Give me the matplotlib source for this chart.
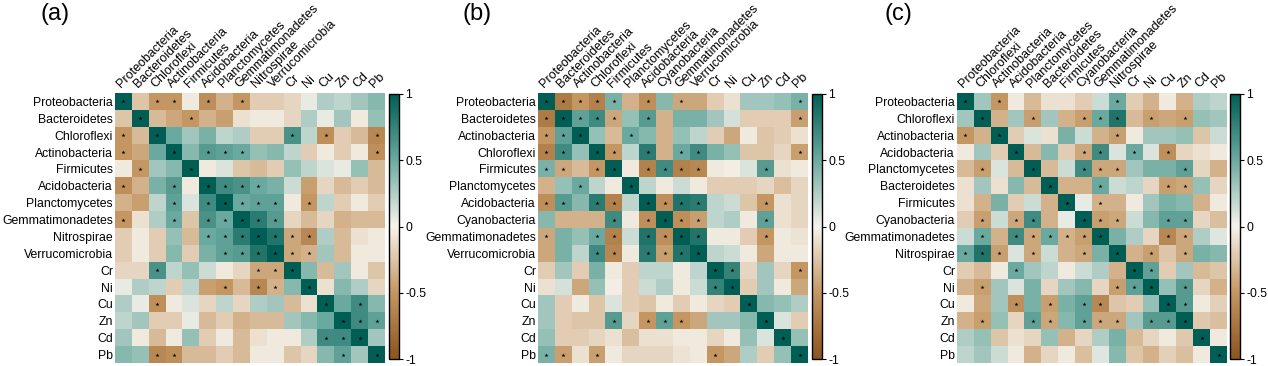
import numpy as np
import matplotlib
matplotlib.use("Agg")
import matplotlib.pyplot as plt
from matplotlib.colors import LinearSegmentedColormap

plt.rcParams['font.family'] = ['Liberation Sans', 'DejaVu Sans']
plt.rcParams['axes.unicode_minus'] = False

# ---------------- data ----------------
labels_a = ["Proteobacteria", "Bacteroidetes", "Chloroflexi", "Actinobacteria", "Firmicutes",
            "Acidobacteria", "Planctomycetes", "Gemmatimonadetes", "Nitrospirae", "Verrucomicrobia",
            "Cr", "Ni", "Cu", "Zn", "Cd", "Pb"]
labels_b = ["Proteobacteria", "Bacteroidetes", "Actinobacteria", "Chloroflexi", "Firmicutes",
            "Planctomycetes", "Acidobacteria", "Cyanobacteria", "Gemmatimonadetes", "Verrucomicrobia",
            "Cr", "Ni", "Cu", "Zn", "Cd", "Pb"]
labels_c = ["Proteobacteria", "Chloroflexi", "Actinobacteria", "Acidobacteria", "Planctomycetes",
            "Bacteroidetes", "Firmicutes", "Cyanobacteria", "Gemmatimonadetes", "Nitrospirae",
            "Cr", "Ni", "Cu", "Zn", "Cd", "Pb"]

corr_a = [
    [1, -0.25, -0.5, -0.5, -0.05, -0.55, -0.35, -0.5, -0.2, -0.2, -0.15, 0.05, 0.25, 0.2, 0.3, 0.4],
    [-0.25, 1, -0.3, -0.4, -0.5, -0.35, -0.45, -0.1, -0.05, -0.05, -0.15, 0.25, 0.05, 0.3, -0.05, 0.35],
    [-0.5, -0.3, 1, 0.5, 0.3, 0.45, 0.2, 0.25, -0.2, -0.2, 0.65, 0.2, -0.55, -0.2, -0.3, -0.6],
    [-0.5, -0.4, 0.5, 1, 0.4, 0.6, 0.55, 0.5, 0.35, 0.4, 0.2, -0.2, -0.05, -0.2, -0.05, -0.55],
    [-0.05, -0.5, 0.3, 0.4, 1, -0.05, 0.1, -0.25, -0.3, -0.2, 0.35, 0.2, 0.1, 0.05, 0.35, -0.3],
    [-0.55, -0.35, 0.45, 0.6, -0.05, 1, 0.7, 0.65, 0.5, 0.45, 0.15, -0.45, -0.15, -0.3, -0.2, -0.3],
    [-0.35, -0.45, 0.2, 0.55, 0.1, 0.7, 1, 0.5, 0.55, 0.55, -0.05, -0.5, 0.2, -0.2, -0.05, -0.2],
    [-0.5, -0.1, 0.25, 0.5, -0.25, 0.65, 0.5, 1, 0.8, 0.6, -0.15, -0.3, -0.15, -0.35, -0.3, -0.3],
    [-0.2, -0.05, -0.2, 0.35, -0.3, 0.5, 0.55, 0.8, 1, 0.85, -0.4, -0.6, 0.25, -0.3, -0.1, -0.05],
    [-0.2, -0.05, -0.2, 0.4, -0.2, 0.45, 0.55, 0.6, 0.85, 1, -0.4, -0.35, 0.3, -0.3, -0.05, -0.05],
    [-0.15, -0.15, 0.65, 0.2, 0.35, 0.15, -0.05, -0.15, -0.4, -0.4, 1, 0.4, -0.3, 0.3, -0.05, -0.25],
    [0.05, 0.25, 0.2, -0.2, 0.2, -0.45, -0.5, -0.3, -0.6, -0.35, 0.4, 1, -0.1, 0.4, 0.25, -0.15],
    [0.25, 0.05, -0.55, -0.05, 0.1, -0.15, 0.2, -0.15, 0.25, 0.3, -0.3, -0.1, 1, 0.5, 0.7, 0.4],
    [0.2, 0.3, -0.2, -0.2, 0.05, -0.3, -0.2, -0.35, -0.3, -0.3, 0.3, 0.4, 0.5, 1, 0.7, 0.55],
    [0.3, -0.05, -0.3, -0.05, 0.35, -0.2, -0.05, -0.3, -0.1, -0.05, -0.05, 0.25, 0.7, 0.7, 1, 0.3],
    [0.4, 0.35, -0.6, -0.55, -0.3, -0.3, -0.2, -0.3, -0.05, -0.05, -0.25, -0.15, 0.4, 0.55, 0.3, 1],
]
corr_b = [
    [1, -0.7, -0.5, -0.65, 0.45, -0.35, -0.55, 0.4, -0.4, -0.4, -0.2, -0.1, 0.3, 0.3, 0.35, 0.45],
    [-0.7, 1, 0.55, 0.7, -0.4, 0.35, 0.6, -0.35, 0.45, 0.45, 0.3, 0.12, -0.2, -0.2, -0.2, -0.45],
    [-0.5, 0.55, 1, 0.35, -0.3, 0.5, 0.4, -0.35, 0.35, 0.2, -0.2, -0.4, -0.05, -0.25, -0.2, -0.1],
    [-0.65, 0.7, 0.35, 1, -0.5, 0.2, 0.8, -0.35, 0.5, 0.7, 0.45, 0.35, -0.25, -0.25, -0.15, -0.45],
    [0.45, -0.4, -0.3, -0.5, 1, -0.05, -0.65, 0.7, -0.65, -0.6, -0.05, -0.03, 0.1, 0.6, -0.1, -0.05],
    [-0.35, 0.35, 0.5, 0.2, -0.05, 1, 0.2, -0.05, 0.15, -0.05, -0.2, -0.2, -0.2, -0.15, -0.28, -0.15],
    [-0.55, 0.6, 0.4, 0.8, -0.65, 0.2, 1, -0.55, 0.85, 0.8, 0.2, 0.15, -0.25, -0.5, -0.1, -0.15],
    [0.4, -0.35, -0.35, -0.35, 0.7, -0.05, -0.55, 1, -0.55, -0.45, 0.2, 0.25, -0.05, 0.55, -0.1, -0.15],
    [-0.4, 0.45, 0.35, 0.5, -0.65, 0.15, 0.85, -0.55, 1, 0.85, -0.05, -0.05, -0.2, -0.5, -0.05, -0.08],
    [-0.4, 0.45, 0.2, 0.7, -0.6, -0.05, 0.8, -0.45, 0.85, 1, 0.2, 0.15, -0.05, -0.4, -0.05, -0.05],
    [-0.2, 0.3, -0.2, 0.45, -0.05, -0.2, 0.2, 0.2, -0.05, 0.2, 1, 0.75, -0.15, 0.3, -0.15, -0.5],
    [-0.1, 0.12, -0.4, 0.35, -0.03, -0.2, 0.15, 0.25, -0.05, 0.15, 0.75, 1, -0.2, 0.3, -0.05, -0.4],
    [0.3, -0.2, -0.05, -0.25, 0.1, -0.2, -0.25, -0.05, -0.2, -0.05, -0.15, -0.2, 1, 0.4, 0.35, 0.25],
    [0.3, -0.2, -0.25, -0.25, 0.6, -0.15, -0.5, 0.55, -0.5, -0.4, 0.3, 0.3, 0.4, 1, 0.1, -0.2],
    [0.35, -0.2, -0.2, -0.15, -0.1, -0.28, -0.1, -0.1, -0.05, -0.05, -0.15, -0.05, 0.35, 0.1, 1, 0.35],
    [0.45, -0.45, -0.1, -0.45, -0.05, -0.15, -0.15, -0.15, -0.08, -0.05, -0.5, -0.4, 0.25, -0.2, 0.35, 1],
]
corr_c = [
    [1, 0.3, -0.5, -0.05, -0.3, -0.1, -0.1, -0.2, 0.15, 0.5, -0.2, -0.35, -0.05, -0.35, 0.25, 0.2],
    [0.3, 1, -0.35, 0.3, -0.45, 0.3, -0.35, -0.45, 0.5, 0.85, -0.3, -0.45, -0.4, -0.45, 0.35, 0.3],
    [-0.5, -0.35, 1, -0.2, 0.1, -0.1, 0.45, 0.15, -0.35, -0.45, -0.05, 0.3, 0.3, 0.35, -0.25, 0.15],
    [-0.05, 0.3, -0.2, 1, -0.3, 0.4, -0.2, -0.4, 0.7, 0.1, 0.5, 0.1, -0.55, -0.15, -0.1, -0.05],
    [-0.3, -0.45, 0.1, -0.3, 1, -0.3, 0.15, 0.7, -0.4, -0.4, 0.3, 0.45, 0.45, 0.55, -0.15, -0.35],
    [-0.1, 0.3, -0.1, 0.4, -0.3, 1, -0.35, -0.35, 0.5, 0.15, 0.2, -0.15, -0.45, -0.4, 0.35, -0.15],
    [-0.1, -0.35, 0.45, -0.2, 0.15, -0.35, 1, 0.05, -0.35, -0.35, -0.05, 0.3, 0.45, 0.4, -0.35, -0.05],
    [-0.2, -0.45, 0.15, -0.4, 0.7, -0.35, 0.05, 1, -0.45, -0.4, 0.15, 0.4, 0.55, 0.55, -0.15, -0.28],
    [0.15, 0.5, -0.35, 0.7, -0.4, 0.5, -0.35, -0.45, 1, 0.45, 0.25, -0.15, -0.6, -0.4, 0.25, 0.08],
    [0.5, 0.85, -0.45, 0.1, -0.4, 0.15, -0.35, -0.4, 0.45, 1, -0.35, -0.45, -0.25, -0.4, 0.45, 0.4],
    [-0.2, -0.3, -0.05, 0.5, 0.3, 0.2, -0.05, 0.15, 0.25, -0.35, 1, 0.55, -0.2, 0.3, -0.3, -0.25],
    [-0.35, -0.45, 0.3, 0.1, 0.45, -0.15, 0.3, 0.4, -0.15, -0.45, 0.55, 1, 0.35, 0.6, -0.15, -0.35],
    [-0.05, -0.4, 0.3, -0.55, 0.45, -0.45, 0.45, 0.55, -0.6, -0.25, -0.2, 0.35, 1, 0.6, -0.05, -0.18],
    [-0.35, -0.45, 0.35, -0.15, 0.55, -0.4, 0.4, 0.55, -0.4, -0.4, 0.3, 0.6, 0.6, 1, -0.22, -0.28],
    [0.25, 0.35, -0.25, -0.1, -0.15, 0.35, -0.35, -0.15, 0.25, 0.45, -0.3, -0.15, -0.05, -0.22, 1, -0.05],
    [0.2, 0.3, 0.15, -0.05, -0.35, -0.15, -0.05, -0.28, 0.08, 0.4, -0.25, -0.35, -0.18, -0.28, -0.05, 1],
]

# significance marks ('*' = significant)
sig_a = [
    "*.**.*.*........",
    ".*..*...........",
    "*.*.......*.*..*",
    "*..*.***.......*",
    ".*..*...........",
    "*..*.****.......",
    "...*.*****.*....",
    "*..*.*****......",
    ".....*******....",
    "......******....",
    "..*.....***.....",
    "......*.**.*....",
    "..*.........*.*.",
    ".............***",
    "............***.",
    "..**.........*.*",
]
sig_b = [
    "*****.*.*......*",
    "*****.*........*",
    "***..*..........",
    "**.**.*.**.....*",
    "**.**.****...*..",
    "..*..*..........",
    "**.**.****...*..",
    "....*.****...*..",
    "*..**.****...*..",
    "...**.****......",
    "..........**...*",
    "..........**....",
    "............*...",
    "....*.***....*..",
    "..............*.",
    "**.*......*....*",
]
sig_c = [
    "*.*......*......",
    ".*..*..***.*.*..",
    "*.*......*......",
    "...*...**.*.*...",
    ".*..*..***...*..",
    ".....*..*...**..",
    "......*.*.......",
    ".*.**..***..**..",
    ".*.******...**..",
    "***.*..*.*.*.*..",
    "...*......**....",
    ".*.......***.*..",
    "...*.*.**...**..",
    ".*..**.***.***..",
    "..............*.",
    "...............*",
]

panel_tags = ["(a)", "(b)", "(c)"]
cbar_ticks = [1, 0.5, 0, -0.5, -1]
cbar_ticklabels = ["1", "0.5", "0", "-0.5", "-1"]

# ---------------- figure ----------------
W, H = 1268, 366
fig = plt.figure(figsize=(W / 100, H / 100), dpi=100)

cmap = LinearSegmentedColormap.from_list(
    'brown_teal',
    [(0.00, (140 / 255, 84 / 255, 30 / 255)),
     (0.25, (196 / 255, 150 / 255, 98 / 255)),
     (0.50, (246 / 255, 243 / 255, 236 / 255)),
     (0.75, (108 / 255, 170 / 255, 160 / 255)),
     (1.00, (0 / 255, 94 / 255, 84 / 255))])


def fx(px):
    return px / W


def fy(py):
    return 1 - py / H


panels = [
    (labels_a, corr_a, sig_a, 115, 389, 40),
    (labels_b, corr_b, sig_b, 538, 812, 462),
    (labels_c, corr_c, sig_c, 957, 1230, 884),
]
hm_top, hm_bot = 93, 363
cb_top, cb_bot = 94, 359
hm_w = 270

for k, (labs, corr, sig, x0, cbx, tagx) in enumerate(panels):
    M = np.array(corr, dtype=float)
    n = len(labs)
    ax = fig.add_axes([fx(x0), fy(hm_bot), hm_w / W, (hm_bot - hm_top) / H])
    im = ax.imshow(M, cmap=cmap, vmin=-1, vmax=1, aspect='auto',
                   interpolation='nearest', extent=(-0.5, n - 0.5, n - 0.5, -0.5))
    for i in range(n):
        for j in range(n):
            if sig[i][j] == '*':
                ax.scatter(j, i, marker='*', s=9, color='black', linewidths=0, zorder=3)
    ax.set_xlim(-0.5, n - 0.5)
    ax.set_ylim(n - 0.5, -0.5)
    ax.set_xticks(range(n))
    ax.set_yticks(range(n))
    ax.xaxis.tick_top()
    ax.set_xticklabels(labs, rotation=45, ha='left', va='bottom',
                       rotation_mode='anchor', fontsize=9)
    ax.set_yticklabels(labs, fontsize=8.8)
    ax.tick_params(axis='y', length=0, pad=1.5)
    ax.tick_params(axis='x', length=0, pad=2)
    for s in ax.spines.values():
        s.set_visible(False)

    cax = fig.add_axes([fx(cbx), fy(cb_bot), 10 / W, (cb_bot - cb_top) / H])
    cb = fig.colorbar(im, cax=cax, ticks=cbar_ticks)
    cb.set_ticklabels(cbar_ticklabels)
    cb.ax.tick_params(labelsize=8.8, length=3, width=0.8, direction='out', pad=1.5)
    cb.outline.set_linewidth(1.0)

    fig.text(fx(tagx), fy(14), panel_tags[k], fontsize=17, va='center', ha='left')

fig.savefig("out.png", dpi=100)
